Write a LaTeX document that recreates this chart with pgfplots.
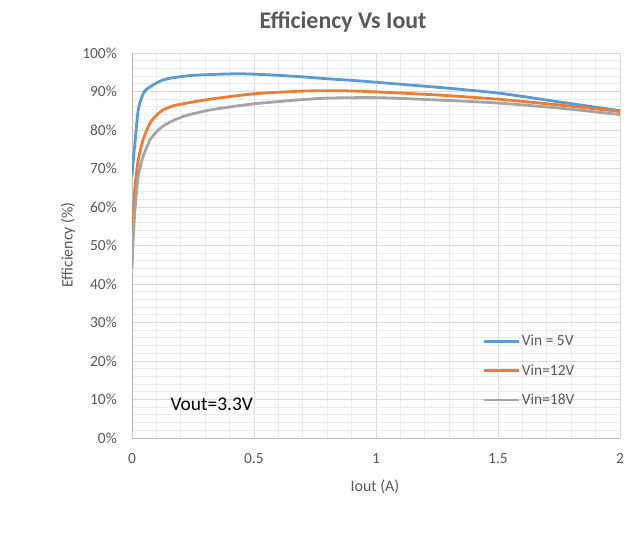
\documentclass[border=0pt]{standalone}
\usepackage{pgfplots}
\pgfplotsset{compat=1.18}
\usepackage{fontspec}
\setmainfont{Carlito}
\definecolor{cblue}{HTML}{5B9BD5}
\definecolor{corange}{HTML}{ED7D31}
\definecolor{cgray}{HTML}{A5A5A5}
\definecolor{gridmaj}{HTML}{D9D9D9}
\definecolor{gridmin}{HTML}{EBEBEB}
\definecolor{axisc}{HTML}{BFBFBF}
\definecolor{txt}{HTML}{595959}
\begin{document}
\begin{tikzpicture}[x=1bp,y=1bp]
\path[use as bounding box, fill=white] (0,0) rectangle (628,539);
\begin{axis}[
  at={(132bp,101bp)}, anchor=south west,
  scale only axis, width=488bp, height=385bp,
  xmin=0, xmax=2, ymin=0, ymax=100,
  xtick={0,0.5,1,1.5,2}, xticklabels={0,0.5,1,1.5,2},
  ytick={0,10,20,30,40,50,60,70,80,90,100},
  yticklabels={0\%,10\%,20\%,30\%,40\%,50\%,60\%,70\%,80\%,90\%,100\%},
  minor x tick num=4, minor y tick num=4,
  grid=both,
  major grid style={draw=gridmaj, line width=0.9bp},
  minor grid style={draw=gridmin, line width=0.9bp},
  tick style={draw=none},
  axis lines*=left,
  axis line style={draw=axisc, line width=0.9bp},
  ticklabel style={font=\fontsize{15.5}{18}\selectfont, text=txt},
  yticklabel style={inner sep=0pt, xshift=-15bp},
  xticklabel style={inner sep=0pt, yshift=-15bp},
  legend style={at={(axis cs:1.4385,27.1)}, anchor=north west, draw=none, fill=none,
    font=\fontsize{15.5}{17}\selectfont, text=txt, row sep=14bp, inner sep=0pt,
    nodes={inner sep=1.5bp}},
  legend cell align=left,
  legend image code/.code={\draw[#1, line width=2.2bp] (0bp,0bp) -- (35bp,0bp);},
  every axis plot/.append style={line width=2.8bp, smooth, tension=0.4},
]
\addplot[cblue] coordinates {
(0,68) (0.005,72) (0.012,76.6) (0.025,85) (0.04,88.5) (0.053,90.2) (0.074,91.2)
(0.1,92.2) (0.127,93) (0.17,93.6) (0.25,94.2) (0.32,94.4) (0.43,94.6) (0.5,94.5)
(0.6,94.2) (0.7,93.8) (0.8,93.3) (0.9,92.9) (1.0,92.4) (1.25,91.1) (1.5,89.6)
(1.75,87.3) (2.0,85)};
\addlegendentry{Vin = 5V}
\addplot[corange] coordinates {
(0,53) (0.005,58) (0.012,65) (0.025,72) (0.045,77.4) (0.074,81.8) (0.1,83.8)
(0.127,85.2) (0.17,86.3) (0.225,87) (0.32,88) (0.5,89.4) (0.7,90.1) (0.85,90.2)
(1.0,89.9) (1.25,89.1) (1.5,88) (1.75,86.5) (2.0,84.8)};
\addlegendentry{Vin=12V}
\addplot[cgray] coordinates {
(0,44) (0.005,52) (0.012,59) (0.025,67.8) (0.045,73) (0.074,77.4) (0.1,79.5)
(0.127,81) (0.17,82.5) (0.225,83.8) (0.32,85.2) (0.5,86.8) (0.77,88.2) (1.0,88.4)
(1.25,87.8) (1.5,87) (1.75,85.7) (2.0,84)};
\addlegendentry{Vin=18V}
\node[anchor=west, inner sep=0pt, font=\fontsize{19.5}{22}\selectfont] at (axis cs:0.157,8.8) {Vout=3.3V};
\end{axis}
\node[font=\bfseries\fontsize{24}{28}\selectfont, text=txt] at (343,517) {Efficiency Vs Iout};
\node[rotate=90, font=\fontsize{16}{19}\selectfont, text=txt] at (68,294) {Efficiency (\%)};
\node[font=\fontsize{16}{19}\selectfont, text=txt] at (375,52) {Iout (A)};
\end{tikzpicture}
\end{document}
